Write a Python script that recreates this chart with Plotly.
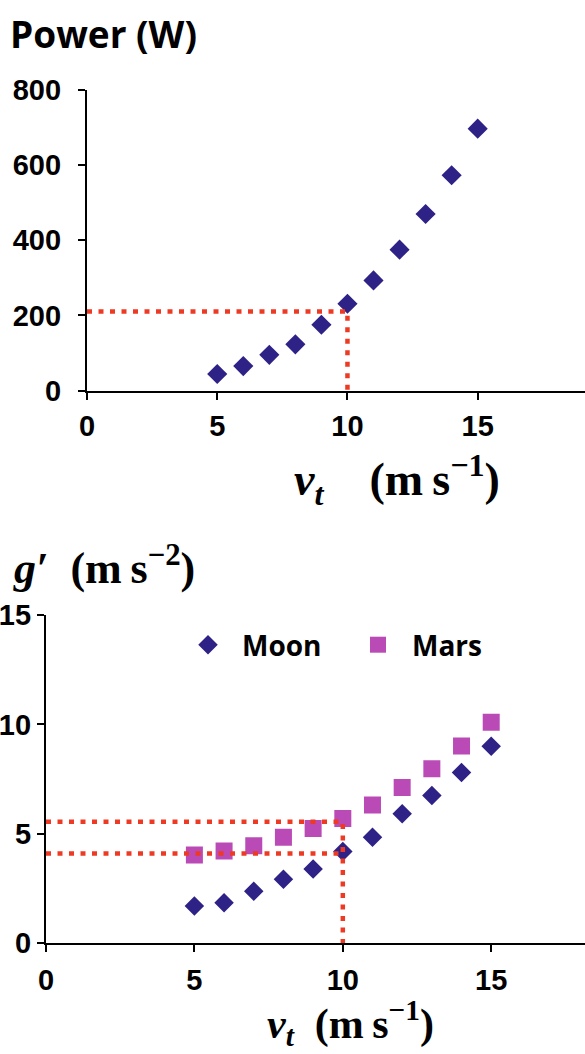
import plotly.graph_objects as go

# Terminal speed values (m/s) shared by both panels
speed = [5, 6, 7, 8, 9, 10, 11, 12, 13, 14, 15]

# Upper panel: required power (W)
power_w = [44, 65, 95, 123, 175, 231, 293, 375, 470, 573, 697]

# Lower panel: effective gravity g' (m/s^2)
g_moon = [1.70, 1.85, 2.38, 2.93, 3.40, 4.20, 4.85, 5.92, 6.75, 7.80, 9.00]
g_mars = [4.04, 4.22, 4.46, 4.85, 5.25, 5.70, 6.32, 7.12, 7.98, 9.02, 10.10]

# Read-off guide values (dotted red lines)
v_read = 10
power_read = 210
g_read_mars = 5.55
g_read_moon = 4.10

# Tick values
power_ticks = [0, 200, 400, 600, 800]
speed_ticks = [0, 5, 10, 15]
g_ticks = [0, 5, 10, 15]

W, H = 585, 1054
NAVY = "#2E2287"
MAGENTA = "#BA4BB6"
RED = "#EE3A23"
DOTS = "5px,6.5px"


def fx(px):
    return px / W


def fy(px):
    return 1 - px / H


fig = go.Figure()

# ---- upper panel ----
fig.add_trace(go.Scatter(
    x=speed, y=power_w, mode="markers", name="Power",
    marker=dict(symbol="diamond", size=15.5, color=NAVY),
    xaxis="x", yaxis="y", showlegend=False,
))
fig.add_trace(go.Scatter(
    x=[0, v_read, v_read], y=[power_read, power_read, 0], mode="lines",
    line=dict(color=RED, width=4.5, dash=DOTS),
    xaxis="x", yaxis="y", showlegend=False, hoverinfo="skip",
))

# ---- lower panel ----
fig.add_trace(go.Scatter(
    x=speed, y=g_moon, mode="markers", name="\u2002Moon",
    marker=dict(symbol="diamond", size=15, color=NAVY),
    xaxis="x2", yaxis="y2", legend="legend",
))
fig.add_trace(go.Scatter(
    x=speed, y=g_mars, mode="markers", name="\u2002Mars",
    marker=dict(symbol="square", size=17, color=MAGENTA),
    xaxis="x2", yaxis="y2", legend="legend2",
))
fig.add_trace(go.Scatter(
    x=[0, v_read, v_read], y=[g_read_mars, g_read_mars, 0], mode="lines",
    line=dict(color=RED, width=4.5, dash=DOTS),
    xaxis="x2", yaxis="y2", showlegend=False, hoverinfo="skip",
))
fig.add_trace(go.Scatter(
    x=[0, v_read], y=[g_read_moon, g_read_moon], mode="lines",
    line=dict(color=RED, width=4.5, dash=DOTS),
    xaxis="x2", yaxis="y2", showlegend=False, hoverinfo="skip",
))

tick_font = dict(family="Liberation Sans", size=29, color="black", weight="bold")
axis_common = dict(
    showline=True, linecolor="black", linewidth=2.2,
    ticks="outside", ticklen=7, tickwidth=2, tickcolor="black",
    showgrid=False, zeroline=False, tickfont=tick_font, fixedrange=True,
    automargin=False,
)

legend_common = dict(
    orientation="h", yanchor="middle", xanchor="left",
    y=fy(645), bgcolor="rgba(0,0,0,0)", borderwidth=0,
    font=dict(family="Open Sans", size=28, color="black", weight="bold"),
    itemsizing="trace",
)

title_v_top = "<b><i>v</i><sub><i>t</i></sub>\u2003(m\u2009s<sup>\u22121</sup>)</b>"
title_v_bottom = "<b><i>v</i><sub><i>t</i></sub>\u2002(m\u2009s<sup>\u22121</sup>)</b>"
title_g = "<b><i>g\u2032</i>\u2002(m\u2009s<sup>\u22122</sup>)</b>"

fig.update_layout(
    width=W, height=H,
    margin=dict(l=0, r=0, t=0, b=0, pad=0, autoexpand=False),
    paper_bgcolor="white", plot_bgcolor="white",
    xaxis=dict(axis_common, domain=[fx(87), 1], range=[0, 19.12],
               tickvals=speed_ticks, anchor="y", ticklabelstandoff=2),
    yaxis=dict(axis_common, domain=[fy(390.5), fy(90)], range=[0, 800],
               tickvals=power_ticks, anchor="x", ticklabelstandoff=11),
    xaxis2=dict(axis_common, domain=[fx(46), 1], range=[0, 18.16],
                tickvals=speed_ticks, anchor="y2", ticklabelstandoff=3),
    yaxis2=dict(axis_common, domain=[fy(943.3), fy(615)], range=[0, 15],
                tickvals=g_ticks, anchor="x2", ticklabelstandoff=0),
    legend=dict(legend_common, x=fx(188)),
    legend2=dict(legend_common, x=fx(358)),
    annotations=[
        dict(text="Power (W)", x=fx(8), y=fy(34), xref="paper", yref="paper",
             xanchor="left", yanchor="middle", showarrow=False,
             font=dict(family="Open Sans", size=37, color="black", weight="bold")),
        dict(text=title_v_top, x=fx(397), y=fy(479), xref="paper", yref="paper",
             xanchor="center", yanchor="middle", showarrow=False,
             font=dict(family="Liberation Serif", size=46, color="black")),
        dict(text=title_g, x=fx(104), y=fy(565), xref="paper", yref="paper",
             xanchor="center", yanchor="middle", showarrow=False,
             font=dict(family="Liberation Serif", size=44, color="black")),
        dict(text=title_v_bottom, x=fx(350), y=fy(1023), xref="paper", yref="paper",
             xanchor="center", yanchor="middle", showarrow=False,
             font=dict(family="Liberation Serif", size=42, color="black")),
    ],
)

fig.write_html("out.html")
